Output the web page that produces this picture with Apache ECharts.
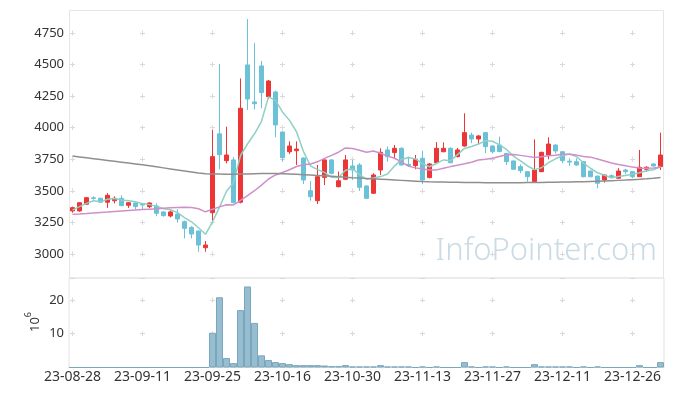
<!DOCTYPE html>
<html><head><meta charset="utf-8">
<script src="https://cdn.jsdelivr.net/npm/echarts@6/dist/echarts.min.js"></script>
<style>html,body{margin:0;padding:0;background:#fff}#c{width:673px;height:396px}</style>
</head><body><div id="c"></div>
<script>
const dates = ['23-08-28','23-08-29','23-08-30','23-08-31','23-09-01','23-09-04','23-09-05','23-09-06','23-09-07','23-09-08',
'23-09-11','23-09-12','23-09-13','23-09-14','23-09-15','23-09-18','23-09-19','23-09-20','23-09-21','23-09-22',
'23-09-25','23-09-26','23-09-27','23-10-04','23-10-05','23-10-06','23-10-10','23-10-11','23-10-12','23-10-13',
'23-10-16','23-10-17','23-10-18','23-10-19','23-10-20','23-10-23','23-10-24','23-10-25','23-10-26','23-10-27',
'23-10-30','23-10-31','23-11-01','23-11-02','23-11-03','23-11-06','23-11-07','23-11-08','23-11-09','23-11-10',
'23-11-13','23-11-14','23-11-15','23-11-16','23-11-17','23-11-20','23-11-21','23-11-22','23-11-23','23-11-24',
'23-11-27','23-11-28','23-11-29','23-11-30','23-12-01','23-12-04','23-12-05','23-12-06','23-12-07','23-12-08',
'23-12-11','23-12-12','23-12-13','23-12-14','23-12-15','23-12-18','23-12-19','23-12-20','23-12-21','23-12-22',
'23-12-26','23-12-27','23-12-28','24-01-02','24-01-03'];
const opens = [3341,3341,3394,3445,3441,3410,3422,3441,3386,3404,
3400,3375,3380,3333,3301,3317,3256,3211,3182,3050,
3327,3952,3739,3745,3410,4497,4204,4489,4246,4283,
3966,3810,3818,3760,3501,3422,3607,3745,3533,3592,
3697,3705,3538,3481,3665,3824,3803,3837,3710,3700,
3758,3605,3723,3810,3837,3771,3855,3942,3911,3961,
3855,3863,3797,3737,3692,3652,3573,3652,3784,3863,
3810,3735,3731,3731,3657,3617,3586,3620,3600,3665,
3652,3612,3671,3713,3692];
const closes = [3367,3406,3446,3440,3410,3465,3441,3383,3406,3375,
3388,3404,3322,3304,3333,3277,3203,3158,3071,3071,
3771,3786,3784,3406,4154,4227,4190,4278,4370,4022,
3763,3855,3831,3586,3454,3612,3745,3639,3580,3745,
3665,3528,3441,3626,3805,3771,3837,3705,3700,3750,
3586,3713,3837,3837,3723,3824,3961,3911,3935,3850,
3810,3812,3731,3671,3660,3612,3665,3805,3871,3816,
3739,3728,3705,3612,3612,3560,3626,3608,3657,3652,
3612,3687,3687,3697,3784];
const lows = [3327,3335,3390,3430,3405,3365,3401,3378,3365,3354,
3350,3362,3299,3295,3290,3248,3124,3124,3018,3018,
3248,3671,3718,3400,3401,4140,4145,4154,4227,3924,
3731,3792,3705,3554,3422,3396,3546,3630,3528,3585,
3586,3499,3436,3475,3626,3731,3758,3700,3692,3671,
3554,3600,3718,3805,3718,3765,3850,3877,3870,3799,
3795,3805,3705,3665,3640,3573,3570,3648,3750,3795,
3718,3697,3700,3607,3607,3520,3565,3598,3595,3630,
3600,3610,3650,3692,3665];
const highs = [3375,3410,3452,3457,3445,3481,3457,3465,3410,3408,
3404,3410,3401,3340,3345,3354,3265,3220,3185,3103,
3982,4505,4008,3766,4390,4860,4669,4529,4378,4293,
3970,3892,3892,3765,3578,3705,3750,3750,3652,3784,
3745,3720,3545,3640,3837,3851,3863,3845,3771,3784,
3818,3720,3886,3884,3845,3840,4114,3961,3940,3965,
3862,3929,3800,3740,3710,3655,3908,3810,3924,3868,
3812,3758,3758,3735,3660,3620,3630,3630,3680,3675,
3655,3824,3695,3718,3961];
const ma5 = [3348,3375,3401,3422,3414,3433,3440,3428,3421,3414,
3399,3391,3379,3359,3350,3328,3288,3255,3208,3156,
3255,3371,3497,3564,3780,3871,3952,4051,4244,4217,
4125,4058,3968,3811,3698,3668,3646,3607,3606,3664,
3675,3631,3592,3601,3613,3634,3696,3749,3764,3753,
3716,3691,3717,3745,3739,3787,3836,3851,3871,3896,
3893,3864,3828,3775,3737,3697,3668,3683,3723,3754,
3779,3792,3772,3720,3679,3643,3623,3604,3613,3621,
3631,3643,3659,3667,3693];
const ma20 = [3315,3317,3320,3324,3328,3332,3337,3341,3345,3349,
3352,3355,3358,3362,3366,3368,3370,3369,3358,3334,
3354,3373,3390,3388,3425,3463,3501,3545,3594,3626,
3645,3667,3693,3707,3713,3730,3757,3781,3806,3840,
3835,3822,3805,3816,3798,3775,3758,3729,3696,3682,
3673,3666,3666,3679,3692,3703,3714,3727,3745,3750,
3758,3772,3786,3788,3781,3773,3765,3770,3778,3782,
3789,3790,3783,3772,3767,3753,3737,3721,3708,3698,
3688,3681,3679,3681,3687];
const maLong = [3776,3769,3762,3755,3748,3741,3734,3727,3720,3713,
3706,3698,3690,3682,3674,3666,3658,3650,3642,3635,
3634,3633,3632,3632,3633,3634,3636,3637,3638,3637,
3635,3633,3631,3628,3625,3622,3619,3616,3612,3608,
3604,3601,3598,3595,3592,3589,3586,3583,3580,3577,
3574,3572,3571,3570,3569,3568,3567,3566,3566,3565,
3565,3565,3565,3565,3565,3566,3566,3567,3568,3569,
3570,3571,3572,3573,3575,3577,3579,3581,3583,3585,
3588,3591,3595,3600,3606];
const volumes = [0,0,0,0,0,0,0,0,0,0,
0,0,0,0,0,0,0,0,0,0,
10.3,20.8,2.8,1.3,17.0,24.0,13.2,3.6,2.2,1.6,
1.3,1.0,0.7,0.7,0.7,0.7,0.6,0.4,0.4,0.7,
0.3,0.3,0.3,0.3,0.7,0.3,0.3,0.3,0.3,0,
0.3,0,0.3,0,0,0,1.6,0.3,0,0.3,
0.3,0,0.3,0,0,0,1.0,0.3,0.3,0.3,
0.3,0.3,0,0.3,0,0.3,0,0,0,0,
0,0.7,0,0,1.6];
const priceTicks = {min: 3000, max: 4750, step: 250};
const volTicks = {min: 0, max: 26.5, step: 10};
const volUnit = '{a|10}{b|6}';

const FONT = 'Noto Sans';
const candleData = opens.map((o, i) => [o, closes[i], lows[i], highs[i]]);

const hiddenAxis = {axisLine:{show:false}, axisTick:{show:false}, axisLabel:{show:false}, splitLine:{show:false}};
const crossColor = '#d9d9d9';

const option = {
  animation: false,
  backgroundColor: '#fff',
  textStyle: {fontFamily: FONT},
  graphic: [
    {type:'rect', silent:true, z:-10, shape:{x:69.5, y:10.5, width:594, height:267.5}, style:{fill:'none', stroke:'#e6e6e6', lineWidth:1}},
    {type:'text', silent:true, z:-5, right: 16, top: 236, style:{text:'InfoPointer.com', font:'300 31px "Noto Sans"', fill:'#cadbe5'}},
    {type:'text', silent:true, x: 33, y: 322, rotation: Math.PI / 2,
     style:{text: volUnit, align:'center', verticalAlign:'middle',
            rich:{a:{fontSize:13, fill:'#333', fontFamily: FONT, lineHeight:18, verticalAlign:'bottom'},
                  b:{fontSize:9, fill:'#333', fontFamily: FONT, lineHeight:18, verticalAlign:'top'}}}}
  ],
  grid: [
    {left: 69, right: 9, top: 33, height: 221},
    {left: 69, right: 9, top: 278, height: 89.5, show: true, borderColor: '#e3e3e3', borderWidth: 1},
    {left: 72.5, width: 560, top: 30.5, height: 226},
    {left: 70, width: 565, top: 33, height: 221},
    {left: 72.5, width: 560, top: 297.5, height: 38.77}
  ],
  xAxis: [
    Object.assign({type:'category', gridIndex:0, data: dates, boundaryGap: true}, hiddenAxis),
    {type:'category', gridIndex:1, data: dates, boundaryGap: true,
     axisLine:{show:false}, axisTick:{show:false}, splitLine:{show:false},
     axisLabel:{interval: 9, fontSize: 14, color:'#333', margin: 3, fontFamily: FONT}},
    Object.assign({type:'value', gridIndex:2, min:0, max:8, interval:1}, hiddenAxis,
      {splitLine:{show:true, lineStyle:{color: crossColor, width:1, type:[5, 26.571], dashOffset:0}}}),
    Object.assign({type:'value', gridIndex:3, min:0, max:1, interval:1}, hiddenAxis),
    Object.assign({type:'value', gridIndex:4, min:0, max:8, interval:1}, hiddenAxis,
      {splitLine:{show:true, lineStyle:{color: crossColor, width:1, type:[5, 28.77], dashOffset:0}}})
  ],
  yAxis: [
    {type:'value', gridIndex:0, min: priceTicks.min, max: priceTicks.max, interval: priceTicks.step, scale: true,
     axisLine:{show:false}, axisTick:{show:false}, splitLine:{show:false},
     axisLabel:{fontSize: 13, color:'#333', margin: 5, fontFamily: FONT, formatter: v => String(v)}},
    {type:'value', gridIndex:1, min: volTicks.min, max: volTicks.max, interval: volTicks.step,
     axisLine:{show:false}, axisTick:{show:false},
     splitLine:{show:true, lineStyle:{color: crossColor, width:1, type:[5,65], dashOffset:69}},
     axisLabel:{fontSize: 13, color:'#333', margin: 5, showMinLabel:false, showMaxLabel:false, fontFamily: FONT, formatter: v => String(v)}},
    Object.assign({type:'value', gridIndex:2, min:0, max:1, interval:1}, hiddenAxis),
    Object.assign({type:'value', gridIndex:3, min:0, max:7, interval:1}, hiddenAxis,
      {splitLine:{show:true, lineStyle:{color: crossColor, width:1, type:[5,65], dashOffset:0}}}),
    Object.assign({type:'value', gridIndex:4, min:0, max:1, interval:1}, hiddenAxis)
  ],
  series: [
    {type:'candlestick', xAxisIndex:0, yAxisIndex:0, data: candleData, barWidth: 5, clip: false, z: 3,
     itemStyle:{color:'#ee3535', color0:'#6bc1d8', borderColor:'#ee3535', borderColor0:'#6bc1d8', borderWidth:1}},
    {type:'line', xAxisIndex:0, yAxisIndex:0, data: ma5, symbol:'none', z: 4,
     lineStyle:{color:'#8fd0c5', width:1.5}},
    {type:'line', xAxisIndex:0, yAxisIndex:0, data: ma20, symbol:'none', z: 4,
     lineStyle:{color:'#cf8fc9', width:1.5}},
    {type:'line', xAxisIndex:0, yAxisIndex:0, data: maLong, symbol:'none', z: 4,
     lineStyle:{color:'#8f8f8f', width:1.5}},
    {type:'bar', xAxisIndex:1, yAxisIndex:1, data: volumes, barCategoryGap: '0%',
     itemStyle:{color:'#97bdd0', borderColor:'#7ba7bc', borderWidth:1}}
  ]
};
const chart = echarts.init(document.getElementById('c'), null, {renderer:'canvas'});
chart.setOption(option);
</script></body></html>
